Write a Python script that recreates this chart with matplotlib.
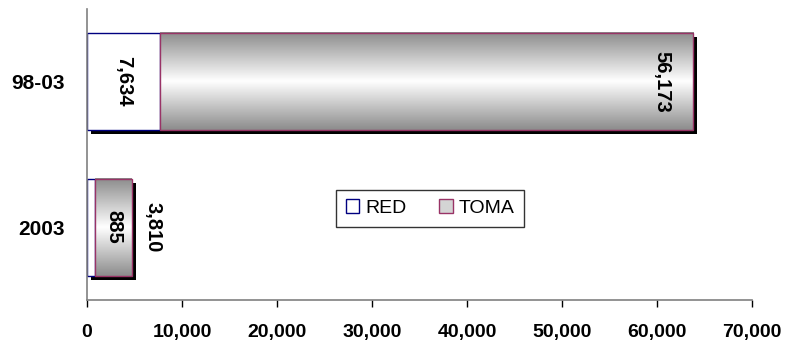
import numpy as np
import matplotlib
matplotlib.use("Agg")
import matplotlib.pyplot as plt
import matplotlib.transforms as mtransforms
from matplotlib.colors import LinearSegmentedColormap
from matplotlib.patches import Patch
from matplotlib.ticker import FuncFormatter

categories = ["2003", "98-03"]
red_values = [885, 7634]
toma_values = [3810, 56173]
x_ticks = [0, 10000, 20000, 30000, 40000, 50000, 60000, 70000]

plt.rcParams["font.family"] = ["Liberation Sans", "DejaVu Sans"]

fig = plt.figure(figsize=(7.89, 3.45), dpi=100)
ax = fig.add_axes([87 / 789, 45 / 345, 665 / 789, 291 / 345])

y = np.arange(len(categories))
height = 0.667
red = np.array(red_values)
toma = np.array(toma_values)
total = red + toma

# drop shadow behind each stacked bar
shadow_tf = mtransforms.offset_copy(ax.transData, fig=fig, x=4, y=-4, units="dots")
ax.barh(y, total, height=height, color="black", transform=shadow_tf, zorder=1)

# RED segment: white fill, navy edge
ax.barh(y, red, height=height, color="white", edgecolor="#000080",
        linewidth=1.0, zorder=2)

# TOMA segment: gray-white-gray vertical gradient
grad_cmap = LinearSegmentedColormap.from_list(
    "steel", ["#8c8c8c", "#ffffff", "#8c8c8c"])
grad = np.linspace(0, 1, 256).reshape(-1, 1)
for yi, left, w in zip(y, red, toma):
    ax.imshow(grad, cmap=grad_cmap, aspect="auto", interpolation="bilinear",
              extent=[left, left + w, yi - height / 2, yi + height / 2],
              zorder=3)
ax.barh(y, toma, left=red, height=height, facecolor="none",
        edgecolor="#993366", linewidth=1.0, zorder=4)

# data labels (rotated, reading top to bottom)
lab_kw = dict(rotation=-90, ha="center", va="center", fontsize=14.5,
              fontweight="bold", color="black", zorder=5)
fmt = lambda v: f"{v:,}"
ax.text(red[1] / 2, y[1], fmt(red[1]), **lab_kw)
ax.text(total[1] - 3300, y[1], fmt(toma[1]), **lab_kw)
ax.text(red[0] + toma[0] / 2, y[0], fmt(red[0]), **lab_kw)
ax.text(total[0] + 2250, y[0], fmt(toma[0]), **lab_kw)

ax.set_xlim(0, 70000)
ax.set_ylim(-0.5, 1.5)
ax.set_xticks(x_ticks)
ax.xaxis.set_major_formatter(FuncFormatter(lambda v, p: f"{int(v):,}"))
ax.set_yticks(y)
ax.set_yticklabels(categories)

for side in ("top", "right"):
    ax.spines[side].set_visible(False)
for side in ("left", "bottom"):
    ax.spines[side].set_color("#808080")
    ax.spines[side].set_linewidth(1.2)

ax.tick_params(axis="x", direction="out", length=5, width=1, color="black",
               pad=12, labelsize=14)
ax.tick_params(axis="y", length=0, pad=16, labelsize=15)
for lbl in ax.get_xticklabels() + ax.get_yticklabels():
    lbl.set_fontweight("bold")

handles = [
    Patch(facecolor="white", edgecolor="#000080", linewidth=1.0, label="RED"),
    Patch(facecolor="#d4d4d4", edgecolor="#993366", linewidth=1.0, label="TOMA"),
]
leg = ax.legend(handles=handles, loc="center", bbox_to_anchor=(0.516, 0.316),
                ncol=2, fontsize=14, frameon=True, fancybox=False,
                edgecolor="black", handlelength=0.7, handleheight=0.7,
                handletextpad=0.3, columnspacing=1.7, borderpad=0.5)
leg.get_frame().set_linewidth(1.0)

fig.savefig("out.png", dpi=100)
